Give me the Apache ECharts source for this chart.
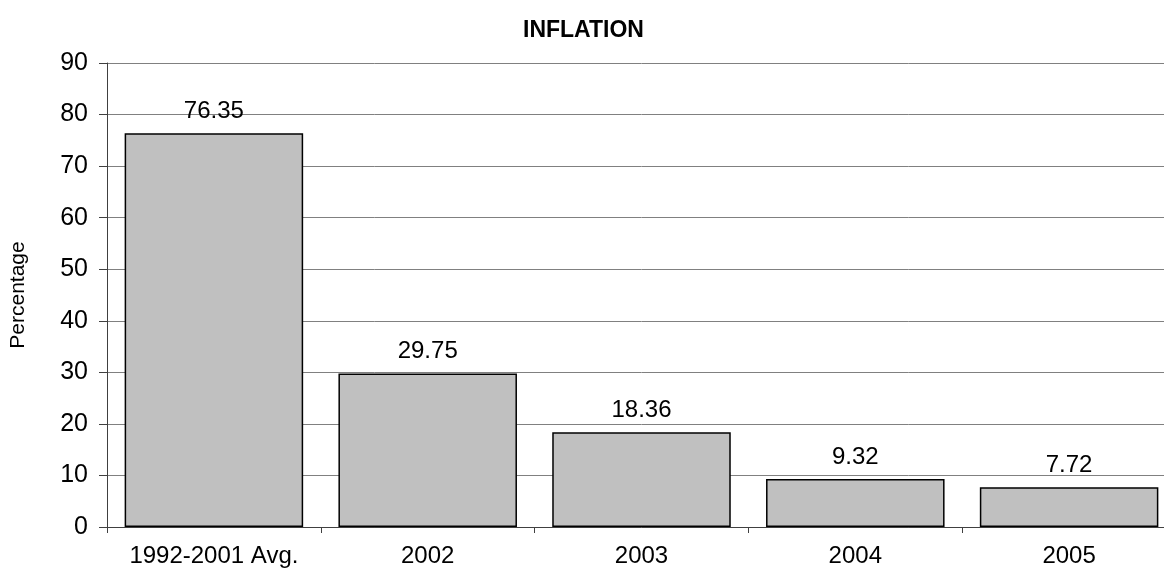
<!DOCTYPE html>
<html>
<head>
<meta charset="utf-8">
<script src="https://cdn.jsdelivr.net/npm/echarts@6/dist/echarts.min.js"></script>
<style>
  html, body { margin: 0; padding: 0; background: #fff; overflow: hidden; }
  /* plot area runs slightly past the right edge of the window */
  #chart { width: 1180px; height: 569px; }
</style>
</head>
<body>
<div id="chart"></div>
<script>
// Inflation by period (percent)
const categories = ['1992-2001 Avg.', '2002', '2003', '2004', '2005'];
const inflation = [76.35, 29.75, 18.36, 9.32, 7.72];
const yTicks = [0, 10, 20, 30, 40, 50, 60, 70, 80, 90];

const FONT = '"Liberation Sans", Arial, sans-serif';

const chart = echarts.init(document.getElementById('chart'), null, { renderer: 'canvas' });

chart.setOption({
  backgroundColor: '#ffffff',
  animation: false,
  title: {
    text: 'INFLATION',
    left: 518,
    top: 14,
    textStyle: { fontFamily: FONT, fontSize: 23, fontWeight: 'bold', color: '#000' }
  },
  grid: { left: 104, top: 63, width: 1072, bottom: 42, containLabel: false },
  xAxis: {
    type: 'category',
    data: categories,
    axisLine: { show: true, lineStyle: { color: '#404040', width: 1 } },
    axisTick: { show: true, interval: 0, alignWithLabel: false, length: 6, lineStyle: { color: '#404040' } },
    axisLabel: { interval: 0, hideOverlap: false, fontFamily: FONT, fontSize: 24, color: '#000', margin: 17 }
  },
  yAxis: {
    type: 'value',
    min: yTicks[0],
    max: yTicks[yTicks.length - 1],
    interval: 10,
    name: 'Percentage',
    nameLocation: 'middle',
    nameGap: 78,
    nameRotate: 90,
    nameTextStyle: { fontFamily: FONT, fontSize: 21, color: '#000' },
    axisLine: { show: true, lineStyle: { color: '#404040', width: 1 } },
    axisTick: { show: true, inside: false, length: 8, lineStyle: { color: '#404040' } },
    axisLabel: { fontFamily: FONT, fontSize: 25, color: '#000', margin: 19 },
    splitLine: { show: true, lineStyle: { color: '#808080', width: 1 } }
  },
  series: [{
    type: 'bar',
    data: inflation,
    barCategoryGap: '16.5%',
    itemStyle: { color: '#c0c0c0', borderColor: '#000', borderWidth: 1.5 },
    label: {
      show: true,
      position: 'top',
      distance: 10,
      fontFamily: FONT,
      fontSize: 24,
      color: '#000',
      formatter: p => p.value.toFixed(2)
    }
  }]
});
</script>
</body>
</html>
